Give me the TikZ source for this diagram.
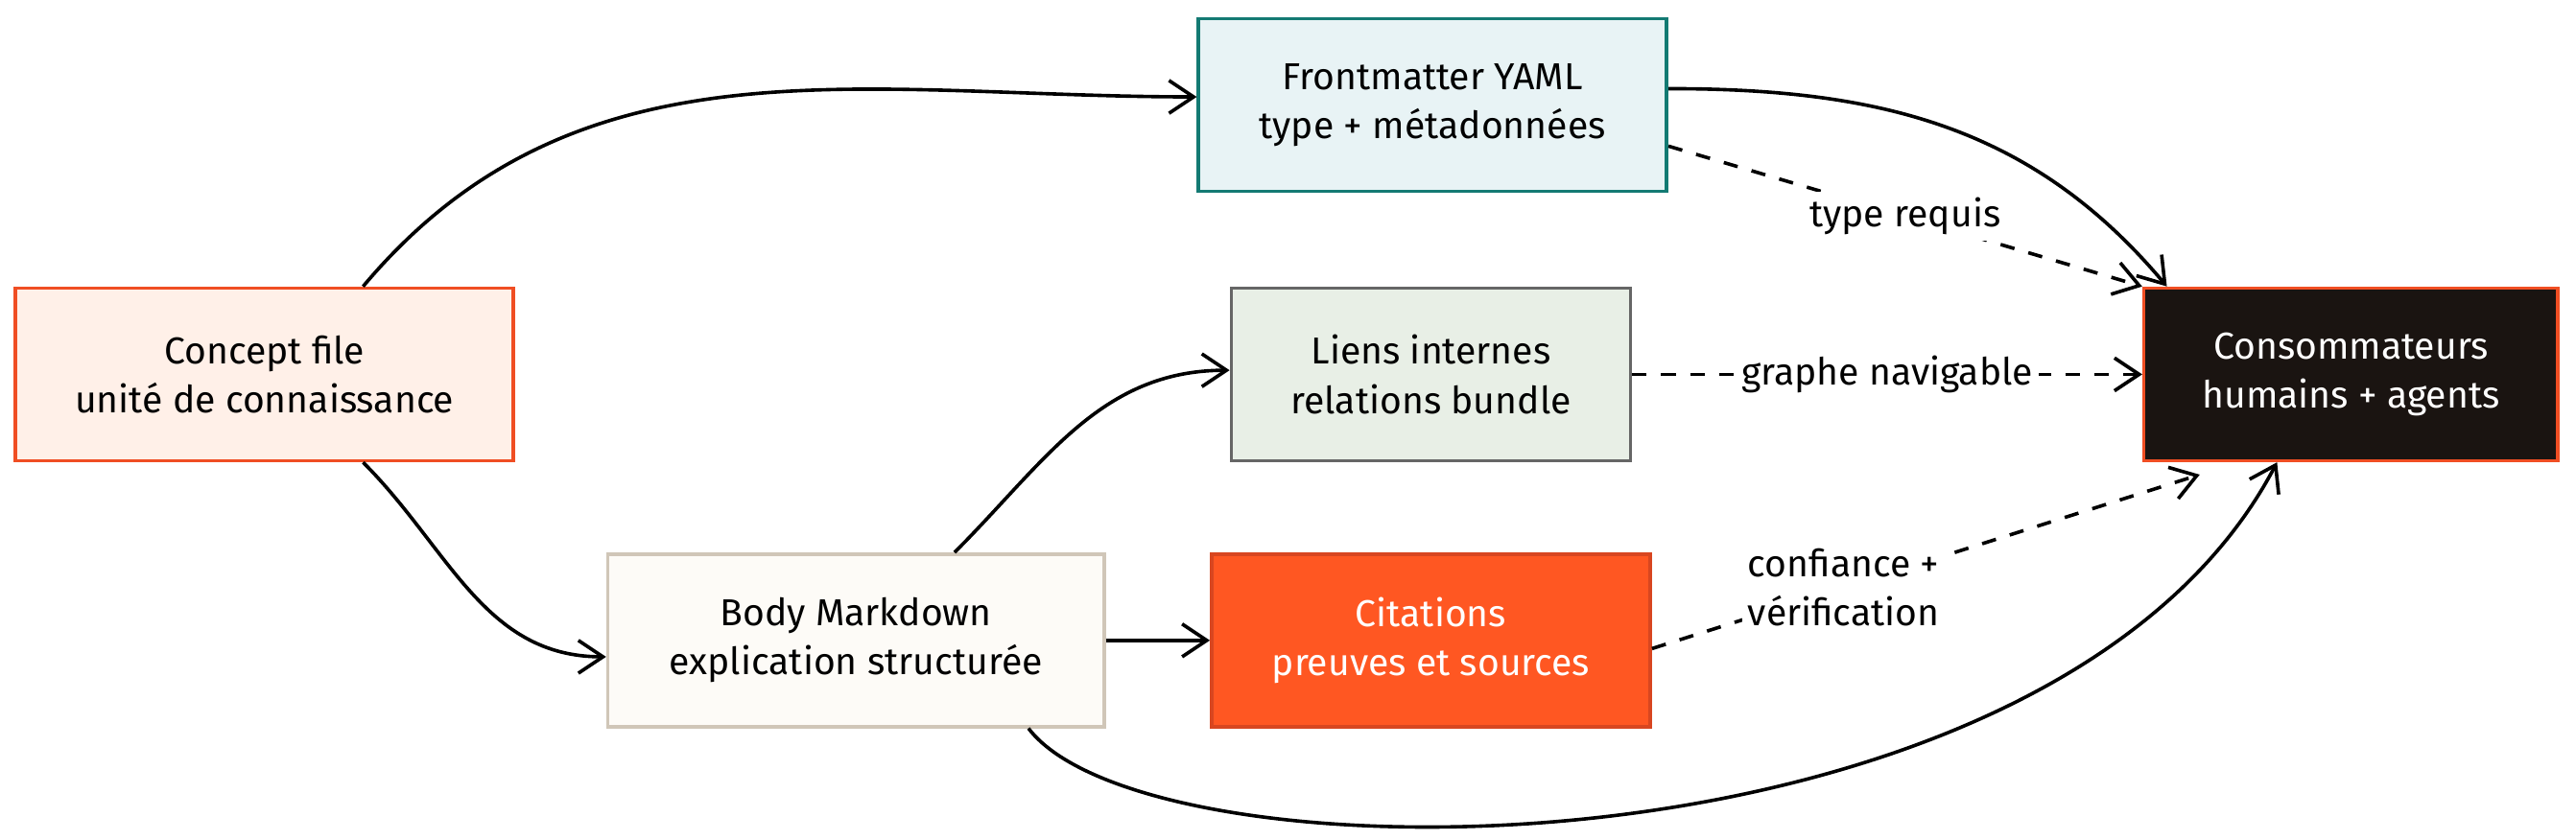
\documentclass[tikz,border=0pt]{standalone}
\usepackage{fontspec}
\setmainfont{Fira Sans}
\usetikzlibrary{arrows.meta}
\definecolor{orangeline}{HTML}{F04E23}
\definecolor{peach}{HTML}{FFF0E8}
\definecolor{tealline}{HTML}{137A73}
\definecolor{icefill}{HTML}{E8F3F5}
\definecolor{sagefill}{HTML}{E8EFE6}
\definecolor{creamfill}{HTML}{FDFBF7}
\definecolor{sandline}{HTML}{D0C6B8}
\definecolor{citfill}{HTML}{FF5722}
\definecolor{inkfill}{HTML}{1A1411}
\begin{document}
\begin{tikzpicture}[thick,
	main node/.style={rectangle,draw,line width=1.2pt,align=center,
		font=\fontsize{13}{17}\selectfont,minimum height=2.1cm},
	link/.style={line width=1.2pt,-{Straight Barb[length=3mm,width=4mm]}},
	hint/.style={link,dashed,dash pattern=on 5pt off 5pt},
	tag/.style={fill=white,inner sep=2pt,align=center,font=\fontsize{13}{17}\selectfont}]
	\useasboundingbox (0,0) rectangle (31.36,10.22);
	
	\node[main node,fill=peach,draw=orangeline,minimum width=6.06cm] (concept) at (3.22,5.66) {Concept file\\unité de connaissance};
	\node[main node,fill=icefill,draw=tealline,minimum width=5.7cm] (front) at (17.44,8.94) {Frontmatter YAML\\type + métadonnées};
	\node[main node,fill=sagefill,draw=black!60,minimum width=4.86cm] (liens) at (17.42,5.66) {Liens internes\\relations bundle};
	\node[main node,fill=creamfill,draw=sandline,minimum width=6.04cm] (body) at (10.42,2.42) {Body Markdown\\explication structurée};
	\node[main node,fill=citfill,draw=orangeline!90!black,text=white,minimum width=5.34cm] (cit) at (17.42,2.42) {Citations\\preuves et sources};
	\node[main node,fill=inkfill,draw=orangeline,text=white,minimum width=5.04cm] (cons) at (28.62,5.66) {Consommateurs\\humains + agents};
	
	\draw[link] ([xshift=1.2cm]concept.north) to[out=50,in=180] ([yshift=0.1cm]front.west);
	\draw[link] ([xshift=1.2cm]concept.south) to[out=-45,in=180] ([yshift=-0.2cm]body.west);
	\draw[link] ([xshift=1.2cm]body.north) to[out=45,in=180] ([yshift=0.05cm]liens.west);
	\draw[link] (body.east) -- (cit.west);
	\draw[link] ([xshift=2.1cm]body.south) .. controls (14,-0.6) and (25,-0.6) .. ([xshift=-0.9cm]cons.south);
	\draw[link] ([yshift=0.2cm]front.east) to[out=0,in=130] ([xshift=0.3cm]cons.north west);
	
	\draw[hint] ([yshift=-0.5cm]front.east) -- node[tag,pos=0.5]{type requis} (cons.north west);
	\draw[hint] (liens.east) -- node[tag]{graphe navigable} (cons.west);
	\draw[hint] ([yshift=-0.1cm]cit.east) -- node[tag,pos=0.35,align=left]{confiance +\\vérification} ([xshift=0.7cm,yshift=-0.15cm]cons.south west);
\end{tikzpicture}
\end{document}
